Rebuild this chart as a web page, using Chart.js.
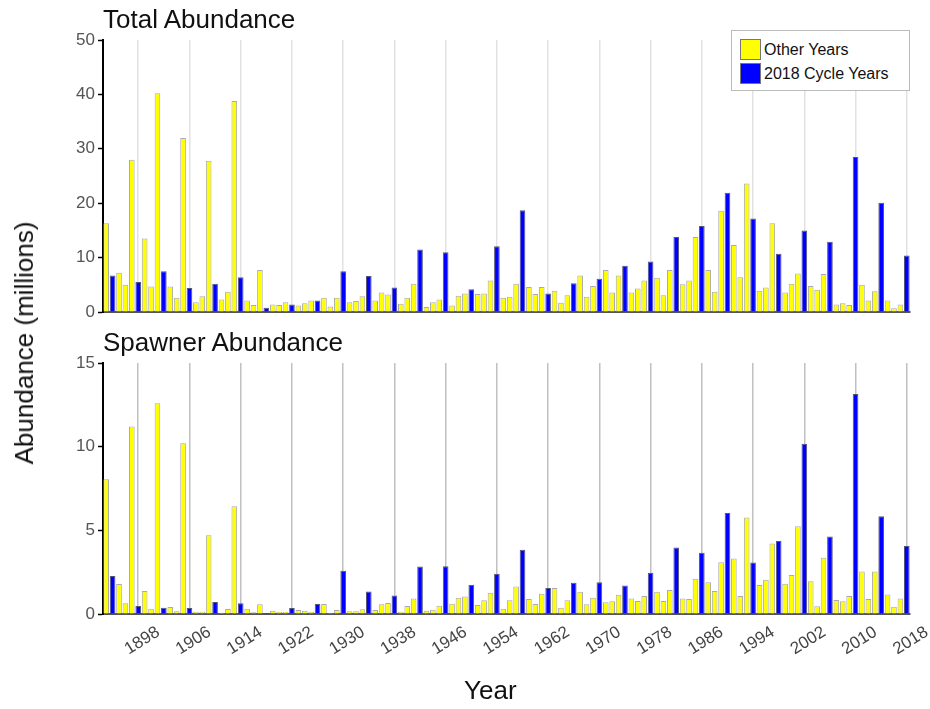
<!DOCTYPE html>
<html>
<head>
<meta charset="utf-8">
<script src="https://cdn.jsdelivr.net/npm/chart.js@4.4.1/dist/chart.umd.min.js"></script>
<style>
  body { margin: 0; background: #fff; font-family: 'Liberation Sans', Arial, sans-serif; }
  #wrap { position: relative; width: 930px; height: 709px; overflow: hidden; }
  canvas { position: absolute; left: 0; }
  .lbl { position: absolute; font-size: 26px; line-height: 26px; color: #111; white-space: nowrap; }
  #legend { position: absolute; left: 731px; top: 30px; width: 177px; height: 59px;
            border: 1px solid #bbb; background: #fff; font-size: 16px; color: #111; }
  #legend div { position: absolute; left: 8px; height: 21px; line-height: 21px; }
  #legend span { display: inline-block; width: 19px; height: 19px; border: 1px solid #777;
                 vertical-align: top; margin-right: 3px; }
</style>
</head>
<body>
<div id="wrap">
  <canvas id="totalChart" width="930" height="330" style="top:0"></canvas>
  <canvas id="spawnerChart" width="930" height="379" style="top:330px"></canvas>
  <div class="lbl" style="left:103px; top:6px">Total Abundance</div>
  <div class="lbl" style="left:103px; top:329px">Spawner Abundance</div>
  <div class="lbl" style="left:464px; top:677px">Year</div>
  <div class="lbl" style="left:24px; top:343px; transform: translate(-50%, -50%) rotate(-90deg)">Abundance (millions)</div>
  <div id="legend"></div>
</div>
<script>
// years on the x axis
const years = [];
for (let y = 1893; y <= 2018; y++) years.push(y);

const tickYears = [1898, 1906, 1914, 1922, 1930, 1938, 1946, 1954, 1962, 1970, 1978, 1986, 1994, 2002, 2010, 2018];

// total abundance (millions), 1893 - 2018
const totalAbundance = [
    16.3, 6.7, 7.2, 5.0, 28.0, 5.5, 13.5,                  // 1893-1899
    4.7, 40.2, 7.5, 4.7, 2.6, 32.0, 4.4, 1.8, 2.9, 27.8,   // 1900s
    5.2, 2.3, 3.7, 38.8, 6.4, 2.1, 1.3, 7.7, 0.8, 1.4,     // 1910s
    1.3, 1.8, 1.4, 1.2, 1.6, 2.1, 2.1, 2.6, 1.0, 2.6,      // 1920s
    7.5, 1.8, 2.0, 2.9, 6.6, 2.1, 3.6, 3.2, 4.5, 1.5,      // 1930s
    2.6, 5.2, 11.5, 0.9, 1.8, 2.3, 11.0, 1.2, 3.0, 3.4,    // 1940s
    4.2, 3.3, 3.4, 5.8, 12.1, 2.6, 2.8, 5.2, 18.7, 4.6,    // 1950s
    3.3, 4.6, 3.4, 3.9, 1.7, 3.1, 5.3, 6.7, 2.8, 4.8,      // 1960s
    6.1, 7.7, 3.6, 6.7, 8.5, 3.6, 4.3, 5.8, 9.3, 6.3,      // 1970s
    3.1, 7.7, 13.8, 5.1, 5.8, 13.8, 15.8, 7.7, 3.7, 18.6,  // 1980s
    21.9, 12.3, 6.4, 23.6, 17.2, 3.9, 4.5, 16.3, 10.7, 3.6, // 1990s
    5.2, 7.1, 15.0, 4.8, 4.1, 7.0, 12.9, 1.4, 1.6, 1.3,    // 2000s
    28.5, 5.0, 2.1, 3.8, 20.1, 2.1, 0.7, 1.4, 10.4         // 2010-2018
];

// spawner abundance (millions), 1893 - 2018
const spawnerAbundance = [
    8.05, 2.27, 1.8, 0.64, 11.2, 0.48, 1.37,                   // 1893-1899
    0.32, 12.6, 0.38, 0.42, 0.16, 10.2, 0.36, 0.14, 0.14, 4.7, // 1900s
    0.72, 0.08, 0.3, 6.44, 0.64, 0.32, 0.1, 0.58, 0.05, 0.2,   // 1910s
    0.14, 0.14, 0.36, 0.24, 0.2, 0.14, 0.6, 0.6, 0.08, 0.24,   // 1920s
    2.58, 0.16, 0.16, 0.28, 1.35, 0.24, 0.58, 0.66, 1.11, 0.14, // 1930s
    0.48, 0.93, 2.84, 0.2, 0.26, 0.5, 2.86, 0.62, 0.97, 1.05,  // 1940s
    1.75, 0.54, 0.82, 1.27, 2.4, 0.32, 0.82, 1.65, 3.84, 0.9,  // 1950s
    0.6, 1.21, 1.55, 1.55, 0.38, 0.82, 1.87, 1.33, 0.58, 0.97, // 1960s
    1.89, 0.7, 0.76, 1.15, 1.71, 0.93, 0.78, 1.07, 2.47, 1.33, // 1970s
    0.78, 1.43, 3.98, 0.93, 0.9, 2.1, 3.66, 1.89, 1.37, 3.1,   // 1980s
    6.04, 3.32, 1.07, 5.77, 3.08, 1.73, 2.05, 4.21, 4.37, 1.81, // 1990s
    2.33, 5.25, 10.18, 1.95, 0.46, 3.36, 4.63, 0.84, 0.76, 1.07, // 2000s
    13.14, 2.54, 0.9, 2.54, 5.84, 1.17, 0.44, 0.93, 4.06       // 2010-2018
];

const otherColor = '#ffff00';
const cycleColor = '#0000ff';

function isCycleYear(y) {
    return (2018 - y) % 4 === 0;
}

function pick(values, cycle) {
    return values.map((v, i) => isCycleYear(years[i]) === cycle ? v : null);
}

function makeChart(id, values, yMax, yStep, showLabels, gridColor, areaTop, xHeight) {
    const ctx = document.getElementById(id).getContext('2d');
    return new Chart(ctx, {
        type: 'bar',
        data: {
            labels: years,
            datasets: [{
                label: 'Other Years',
                data: pick(values, false),
                backgroundColor: otherColor,
                borderColor: '#aaaaaa',
                borderWidth: 1,
                grouped: false,
                categoryPercentage: 0.88,
                barPercentage: 1.0
            }, {
                label: '2018 Cycle Years',
                data: pick(values, true),
                backgroundColor: cycleColor,
                borderColor: '#55557a',
                borderWidth: 1,
                grouped: false,
                categoryPercentage: 0.88,
                barPercentage: 1.0
            }]
        },
        options: {
            responsive: false,
            animation: false,
            layout: { padding: { top: areaTop, right: 20, left: 0, bottom: 0 } },
            plugins: {
                legend: { display: false },
                tooltip: { enabled: false }
            },
            scales: {
                x: {
                    offset: true,
                    grid: {
                        offset: false,
                        drawTicks: false,
                        lineWidth: 1.5,
                        color: (c) => tickYears.includes(years[c.index]) ? gridColor : 'rgba(0,0,0,0)'
                    },
                    border: { display: true, color: '#555', width: 2 },
                    ticks: {
                        display: showLabels,
                        autoSkip: false,
                        minRotation: 32,
                        maxRotation: 32,
                        labelOffset: 20,
                        padding: 8,
                        color: '#444',
                        font: { family: "'Liberation Sans', Arial", size: 17 },
                        callback: (val, i) => tickYears.includes(years[i]) ? String(years[i]) : ''
                    },
                    afterFit: (scale) => { scale.height = xHeight; }
                },
                y: {
                    min: 0,
                    max: yMax,
                    grid: { drawOnChartArea: false, tickLength: 5, tickColor: '#000', tickWidth: 1.5 },
                    border: { color: '#000', width: 2 },
                    ticks: {
                        stepSize: yStep,
                        padding: 3,
                        color: '#555',
                        font: { family: "'Liberation Sans', Arial", size: 17 }
                    },
                    afterFit: (scale) => { scale.width = 103; }
                }
            }
        }
    });
}

const totalChart = makeChart('totalChart', totalAbundance, 50, 10, false, '#e2e2e2', 40, 18);
const spawnerChart = makeChart('spawnerChart', spawnerAbundance, 15, 5, true, '#c0c0c0', 33, 95);

// legend box built from the datasets
const legend = document.getElementById('legend');
totalChart.data.datasets.forEach((ds, i) => {
    const row = document.createElement('div');
    row.style.top = (8 + i * 24) + 'px';
    row.innerHTML = '<span style="background:' + ds.backgroundColor + '"></span>' + ds.label;
    legend.appendChild(row);
});
</script>
</body>
</html>
